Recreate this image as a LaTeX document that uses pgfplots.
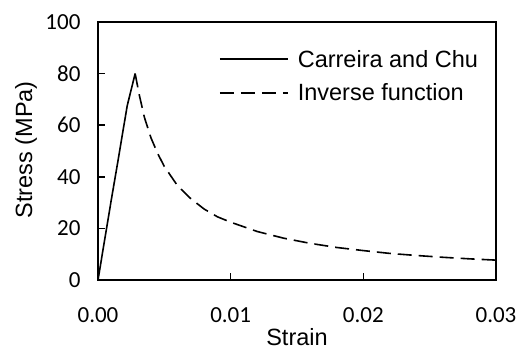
\documentclass[border=0pt]{standalone}
\usepackage{pgfplots}
\pgfplotsset{compat=1.18}
\usepackage{fontspec}
\setmainfont{Liberation Sans}
\newfontfamily\tickfont{Carlito}
\begin{document}
\begin{tikzpicture}
\begin{axis}[
  width=398pt, height=258pt, scale only axis,
  xmin=0, xmax=0.03, ymin=0, ymax=100,
  xtick={0,0.01,0.02,0.03}, ytick={0,20,40,60,80,100},
  scaled x ticks=false,
  /pgf/number format/assume math mode=true,
  tick label style={font=\tickfont\fontsize{23pt}{27pt}\selectfont},
  xticklabel style={/pgf/number format/fixed, /pgf/number format/fixed zerofill, /pgf/number format/precision=2, yshift=-24pt},
  yticklabel style={xshift=-14pt},
  tick align=inside, tick pos=left,
  major tick length=7pt,
  every tick/.style={black, line width=1.5pt},
  axis line style={line width=1.5pt},
  label style={font=\fontsize{23.5pt}{28pt}\selectfont},
  xlabel={Strain}, ylabel={Stress (MPa)},
  xlabel style={at={(axis description cs:0.5,-0.2554)}, anchor=base},
  ylabel style={at={(axis description cs:-0.1658,0.505)}, anchor=base},
  legend style={at={(rel axis cs:0.304,0.90)}, anchor=north west, draw=none, fill=none, inner sep=0pt, row sep=11pt, font=\fontsize{23.5pt}{28pt}\selectfont,
    /tikz/every odd column/.append style={column sep=7pt}},
  legend cell align=left,
  legend image code/.code={\draw[#1] (0pt,0pt) -- (68pt,0pt);},
]
\coordinate (O) at (rel axis cs:0,0);
\addplot[black, line width=1.6pt] coordinates {
 (0,0) (0.0005,15.5) (0.0010,31) (0.0015,46) (0.0022,67.5) (0.0028,80)
};
\addlegendentry{Carreira and Chu}
\addplot[black, line width=1.6pt, dash pattern=on 14pt off 7pt] coordinates {
 (0.0028,80) (0.0031,72) (0.0035,63) (0.004,55) (0.0045,49) (0.005,44)
 (0.006,36.5) (0.007,31.5) (0.008,27.5) (0.009,24.5) (0.010,22.4)
 (0.012,18.8) (0.014,16.2) (0.016,14.2) (0.018,12.6) (0.020,11.4)
 (0.022,10.3) (0.024,9.5) (0.026,8.8) (0.028,8.2) (0.030,7.7)
};
\addlegendentry{Inverse function}
\end{axis}
\pgfresetboundingbox
\path (O) ++(-98pt,-72pt) rectangle ++(519pt,352pt);
\end{tikzpicture}
\end{document}
